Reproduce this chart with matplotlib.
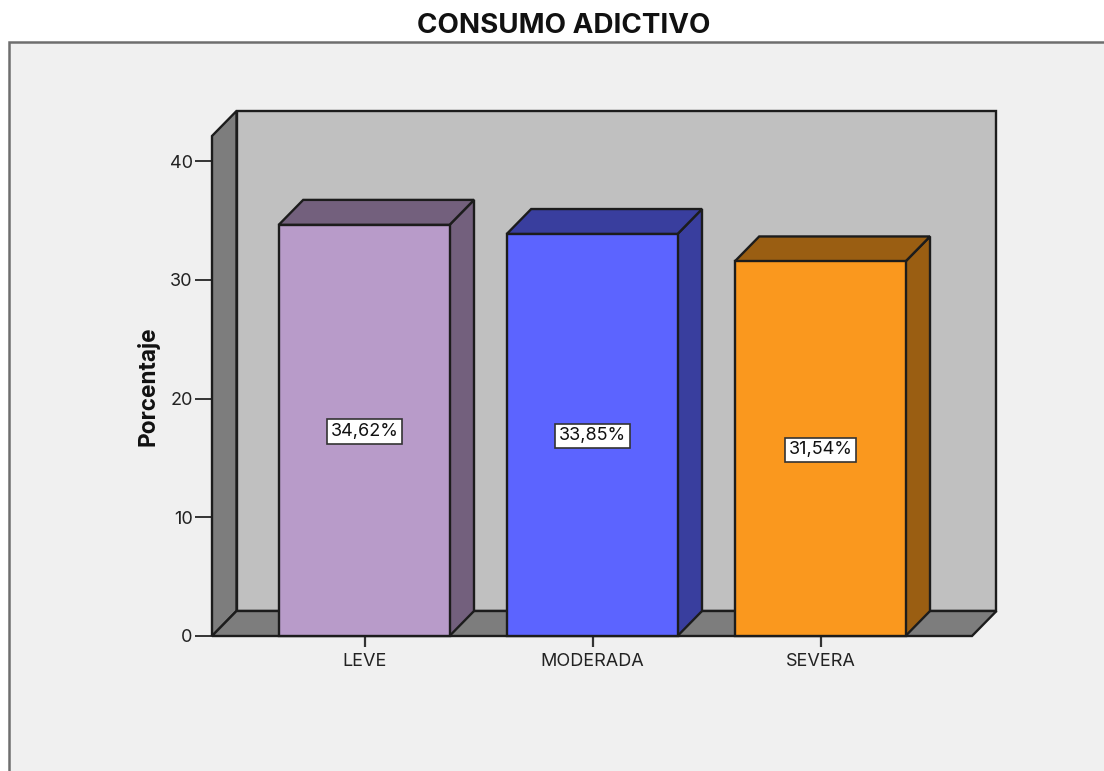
import matplotlib
matplotlib.use("Agg")
import matplotlib.pyplot as plt
from matplotlib.patches import Polygon, Rectangle

plt.rcParams['font.family'] = ['Inter', 'DejaVu Sans']

categories = ['LEVE', 'MODERADA', 'SEVERA']
values = [34.62, 33.85, 31.54]
labels = ['34,62%', '33,85%', '31,54%']
front_colors = ['#B89BC9', '#5C64FF', '#FA981E']
side_colors = ['#73607D', '#393E9E', '#9A5E12']
y_ticks = [0, 10, 20, 30, 40]

W, H = 1104, 771
EDGE = '#1c1c1c'

fig = plt.figure(figsize=(W / 100, H / 100), dpi=100, facecolor='white')

# grey panel behind the chart, runs off the right and bottom edges
fig.add_artist(Rectangle((9 / W, -0.02), 1.02, (H - 42) / H + 0.02, transform=fig.transFigure,
                         facecolor='#F0F0F0', edgecolor='#6e6e6e', linewidth=1.8, zorder=-1))

# front plane of the chart, in pixels: x 212-972, y 136-636
ax = fig.add_axes([212 / W, (H - 636) / H, 760 / W, 500 / H])
px_x = 228.0
px_y = 11.875
ax.set_xlim(-152.5 / px_x, 607.5 / px_x)
ax.set_ylim(0, 500 / px_y)
ax.patch.set_visible(False)

# depth of the fake 3d, in data units
dx = 24.5 / px_x
dy = 25 / px_y
x0, x1 = ax.get_xlim()
y1 = ax.get_ylim()[1]


def face(pts, color, z):
    ax.add_patch(Polygon(pts, closed=True, facecolor=color, edgecolor=EDGE, linewidth=1.7,
                         joinstyle='miter', clip_on=False, zorder=z))


# back wall, left wall, floor
face([(x0 + dx, dy), (x1 + dx, dy), (x1 + dx, y1 + dy), (x0 + dx, y1 + dy)], '#C0C0C0', 1)
face([(x0, 0), (x0 + dx, dy), (x0 + dx, y1 + dy), (x0, y1)], '#7D7D7D', 2)
face([(x0, 0), (x1, 0), (x1 + dx, dy), (x0 + dx, dy)], '#7D7D7D', 2)

half = 85.5 / px_x
for i, v in enumerate(values):
    left, right = i - half - 0.3 / px_x, i + half - 0.5 / px_x
    z = 3 + i
    face([(right, 0), (right + dx, dy), (right + dx, v + dy), (right, v)], side_colors[i], z)
    face([(left, v), (right, v), (right + dx, v + dy), (left + dx, v + dy)], side_colors[i], z)
    face([(left, 0), (right, 0), (right, v), (left, v)], front_colors[i], z + 0.5)
    ax.text(i, v / 2 - 0.08, labels[i], ha='center', va='center', fontsize=13, color='#111111', zorder=10,
            bbox=dict(boxstyle='square,pad=0.2', facecolor='white', edgecolor='#333333', linewidth=1.2))

for s in ax.spines.values():
    s.set_visible(False)
ax.set_xticks(range(len(categories)))
ax.set_xticklabels(categories, fontsize=13, color='#222222')
ax.set_yticks(y_ticks)
ax.set_yticklabels([str(t) for t in y_ticks], fontsize=13, color='#222222')
ax.tick_params(axis='x', length=8, width=1.6, color='#333333', pad=4)
ax.tick_params(axis='y', length=12, width=1.4, color='#333333', pad=2)

fig.text(148 / W, (H - 386) / H, 'Porcentaje', rotation=90, ha='center', va='center',
         fontsize=16.3, fontweight='bold', color='#111111')
fig.text(563.5 / W, (H - 26) / H, 'CONSUMO ADICTIVO', ha='center', va='center',
         fontsize=20, fontweight='bold', color='#111111')

fig.savefig('out.png', dpi=100, facecolor='white')
